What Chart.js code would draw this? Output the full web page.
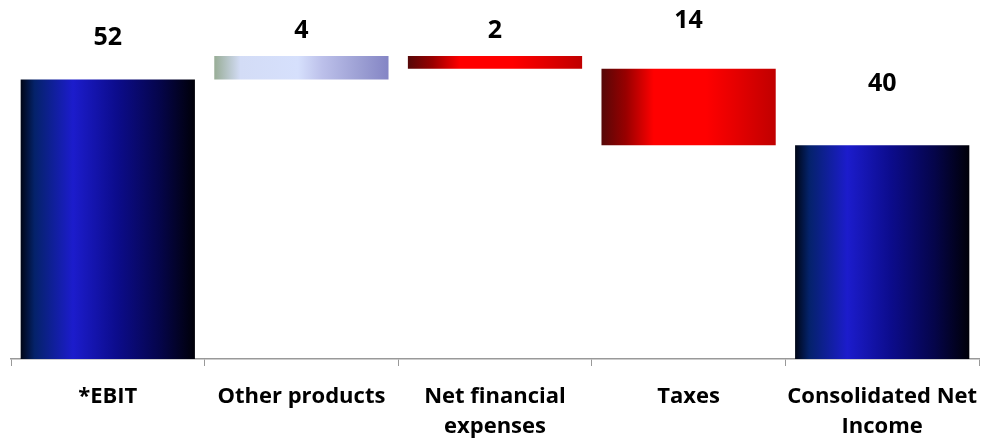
<!DOCTYPE html>
<html>
<head>
<meta charset="utf-8">
<script src="https://cdn.jsdelivr.net/npm/chart.js@4.4.0/dist/chart.umd.min.js"></script>
<style>
  html, body { margin: 0; padding: 0; background: #fff; }
  #wrap { width: 983px; height: 438px; }
</style>
</head>
<body>
<div id="wrap"><canvas id="chart" width="983" height="438"></canvas></div>
<script>
const categories = ['*EBIT', 'Other products', ['Net financial', 'expenses'], 'Taxes', ['Consolidated Net', 'Income']];
const changes = [52.3, 4.4, -2.4, -14.3, 40];
const isTotal = [true, false, false, false, true];

// build floating ranges from the changes
let running = 0;
const ranges = changes.map((v, i) => {
  if (isTotal[i]) { running = v; return [0, v]; }
  const start = running;
  running += v;
  return [start, running];
});
const yMax = Math.max(...ranges.flat());

const blueStops = [[0, '#000616'], [0.08, '#04226a'], [0.3, '#1c1ccc'], [0.55, '#0c0c8c'], [0.8, '#05054a'], [1, '#000008']];
const paleStops = [[0, '#98ad96'], [0.15, '#d3dcf6'], [0.48, '#d6e0fc'], [0.62, '#bcc0ea'], [0.85, '#9a9dd2'], [1, '#8485c5']];
const redStops = [[0, '#560808'], [0.14, '#980000'], [0.3, '#ff0000'], [0.6, '#ff0000'], [0.78, '#e40000'], [1, '#c00000']];

function barFill(ctx) {
  const chart = ctx.chart;
  if (!chart.chartArea || ctx.dataIndex === undefined) return '#1c1ccc';
  const i = ctx.dataIndex;
  const x = chart.scales.x;
  const w = (x.width / categories.length) * 0.9;
  const cx = x.getPixelForValue(i);
  const g = chart.ctx.createLinearGradient(cx - w / 2, 0, cx + w / 2, 0);
  const stops = isTotal[i] ? blueStops : (changes[i] > 0 ? paleStops : redStops);
  stops.forEach(s => g.addColorStop(s[0], s[1]));
  return g;
}

const labelLift = [42, 25, 25, 48, 61];
const fontFamily = '"Open Sans", Lato, sans-serif';

const valueLabels = {
  id: 'valueLabels',
  afterDatasetsDraw(chart) {
    const c = chart.ctx;
    const meta = chart.getDatasetMeta(0);
    const y = chart.scales.y;
    c.save();
    c.font = 'bold 25px ' + fontFamily;
    c.fillStyle = '#000';
    c.textAlign = 'center';
    c.textBaseline = 'middle';
    meta.data.forEach((bar, i) => {
      const top = Math.max(ranges[i][0], ranges[i][1]);
      c.fillText(String(Math.round(Math.abs(changes[i]))), bar.x, y.getPixelForValue(top) - labelLift[i]);
    });
    c.restore();
  }
};

new Chart(document.getElementById('chart'), {
  type: 'bar',
  data: {
    labels: categories,
    datasets: [{
      data: ranges,
      backgroundColor: barFill,
      borderWidth: 0,
      barPercentage: 0.9,
      categoryPercentage: 1
    }]
  },
  options: {
    responsive: false,
    animation: false,
    layout: { padding: { left: 11, right: 4, top: 56, bottom: 0 } },
    plugins: { legend: { display: false }, tooltip: { enabled: false } },
    scales: {
      x: {
        afterFit(s) {
          s.height = 79;
          s.paddingLeft = 0;
          s.paddingRight = 0;
        },
        grid: { drawOnChartArea: false, drawTicks: true, tickLength: 7, color: '#999', offset: true },
        border: { color: '#999', width: 1.5 },
        ticks: {
          color: '#000',
          font: { family: fontFamily, size: 22, weight: 'bold', lineHeight: 1.36 },
          padding: 16,
          maxRotation: 0,
          autoSkip: false
        }
      },
      y: {
        display: false,
        min: 0,
        max: yMax
      }
    }
  },
  plugins: [valueLabels]
});
</script>
</body>
</html>
